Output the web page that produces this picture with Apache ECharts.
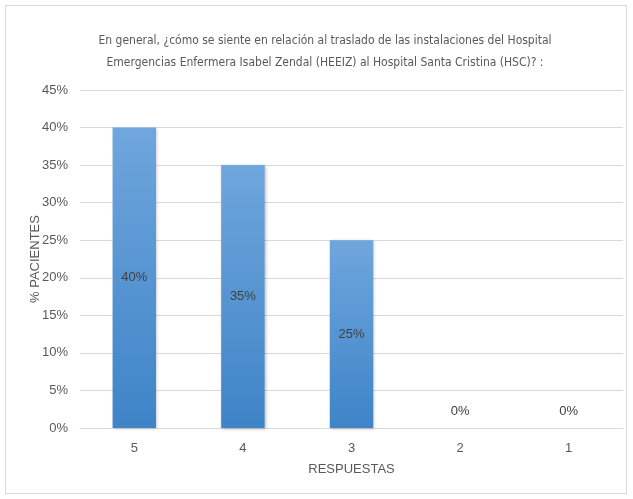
<!DOCTYPE html>
<html>
<head>
<meta charset="utf-8">
<script src="https://cdn.jsdelivr.net/npm/echarts@6/dist/echarts.min.js"></script>
<style>
  html, body { margin: 0; padding: 0; background: #fff; }
  #frame { position: absolute; left: 5px; top: 5px; width: 622px; height: 489px; border: 1px solid #d9d9d9; box-sizing: border-box; }
  #chart { width: 633px; height: 499px; position: absolute; left: 0; top: 0; }
</style>
</head>
<body>
<div id="frame"></div>
<div id="chart"></div>
<script>
// Survey answers (scale 5..1) and share of patients (%)
const categories = ['5', '4', '3', '2', '1'];
const percentages = [40, 35, 25, 0, 0];
const titleLines = [
  'En general, ¿cómo se siente en relación al traslado de las instalaciones del Hospital',
  'Emergencias Enfermera Isabel Zendal (HEEIZ) al Hospital Santa Cristina (HSC)? :'
];

const TITLE_FONT = '"DejaVu Sans Condensed", "Liberation Sans Narrow", sans-serif';
const FONT = '"Liberation Sans", sans-serif';
const TXT = '#595959';

const chart = echarts.init(document.getElementById('chart'), null, { renderer: 'canvas' });

chart.setOption({
  animation: false,
  title: titleLines.map((line, i) => ({
    text: line,
    left: 325,
    textAlign: 'center',
    top: 35 + i * 22,
    padding: 0,
    textStyle: { fontFamily: TITLE_FONT, fontSize: 12, fontWeight: 'normal', color: TXT }
  })),
  grid: { left: 80, right: 10, top: 90, bottom: 71, containLabel: false },
  xAxis: {
    type: 'category',
    data: categories,
    name: 'RESPUESTAS',
    nameLocation: 'middle',
    nameGap: 35,
    nameTextStyle: { fontFamily: FONT, fontSize: 13, color: TXT },
    axisLine: { lineStyle: { color: '#d9d9d9', width: 1 } },
    axisTick: { show: false },
    axisLabel: { fontFamily: FONT, fontSize: 13, color: TXT, margin: 14 }
  },
  yAxis: {
    type: 'value',
    min: 0,
    max: 45,
    interval: 5,
    name: '% PACIENTES',
    nameLocation: 'middle',
    nameGap: 38,
    nameMoveOverlap: false,
    nameTextStyle: { fontFamily: FONT, fontSize: 13, color: TXT },
    axisLine: { show: false },
    axisTick: { show: false },
    axisLabel: { fontFamily: FONT, fontSize: 13, color: TXT, margin: 12, formatter: '{value}%' },
    splitLine: { lineStyle: { color: '#d9d9d9', width: 1 } }
  },
  series: [{
    type: 'bar',
    barWidth: '40%',
    data: percentages.map(v => v === 0
      ? { value: v, label: { position: 'top', distance: 10 } }
      : { value: v }),
    itemStyle: {
      color: new echarts.graphic.LinearGradient(0, 0, 0, 1, [
        { offset: 0, color: '#6fa6dd' },
        { offset: 1, color: '#3e84c7' }
      ]),
      shadowColor: 'rgba(0,0,0,0.25)',
      shadowBlur: 3,
      shadowOffsetX: 1,
      shadowOffsetY: 1
    },
    label: {
      show: true,
      position: 'inside',
      formatter: '{c}%',
      fontFamily: FONT,
      fontSize: 13,
      color: '#404040'
    }
  }]
});
</script>
</body>
</html>
